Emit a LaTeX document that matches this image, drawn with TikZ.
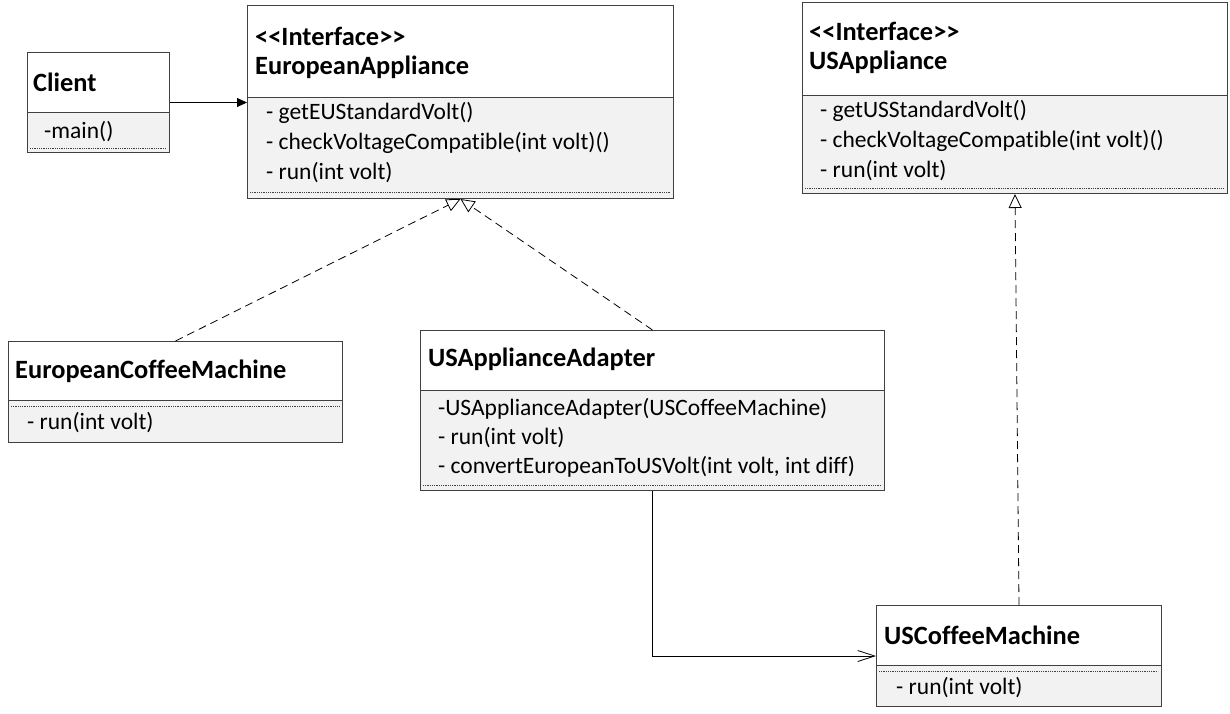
\documentclass[tikz,border=0pt]{standalone}
\usepackage{fontspec}
\setmainfont{Carlito}[Ligatures={TeXOff,NoCommon}]
\usepackage{tikz}
\usetikzlibrary{arrows.meta, positioning, calc}

\definecolor{partgray}{RGB}{242,242,242}
\definecolor{linegray}{RGB}{64,64,64}

\begin{document}
\begin{tikzpicture}[x=1pt, y=-1pt,
    classbox/.style={draw=linegray, line width=1pt, inner sep=0pt, anchor=north west},
    graypart/.style={fill=partgray, draw=linegray, line width=1pt},
    dotline/.style={densely dotted, line width=0.8pt, draw=linegray},
    title/.style={anchor=west, inner sep=0pt, font=\fontsize{26.4}{30}\selectfont\bfseries},
    method/.style={anchor=west, inner sep=0pt, font=\fontsize{23.5}{27}\selectfont},
    realize/.style={dashed, dash pattern=on 8pt off 5pt, line width=0.8pt, -{Triangle[open, length=14pt, width=13pt]}},
    assoc/.style={line width=0.8pt, -{Triangle[length=10pt, width=9pt]}},
    uses/.style={line width=0.8pt, -{Straight Barb[length=17pt, width=11pt]}}]
  \useasboundingbox (0,0) rectangle (1230,713);

  % Client
  \filldraw[graypart] (27,112) rectangle (169,152);
  \node[classbox, minimum width=142pt, minimum height=100pt] (client) at (27,52) {};
  \draw[dotline] (30,148) -- (166,148);
  \node[title] (clientName) at (33,82) {Client};
  \node[method] (clientMain) at (44,132) {-main()};

  % EuropeanAppliance
  \filldraw[graypart] (247,97) rectangle (673,198);
  \node[classbox, minimum width=426pt, minimum height=193pt] (euApp) at (247,5) {};
  \draw[dotline] (250,192) -- (670,192);
  \node[title] (euAppStereo) at (255,36) {<<Interface>>};
  \node[title] (euAppName) at (255,67) {EuropeanAppliance};
  \node[method] (euAppA) at (266,113) {- getEUStandardVolt()};
  \node[method] (euAppB) at (266,143) {- checkVoltageCompatible(int volt)()};
  \node[method] (euAppC) at (266,173) {- run(int volt)};

  % USAppliance
  \filldraw[graypart] (802,95) rectangle (1227,193);
  \node[classbox, minimum width=425pt, minimum height=191pt] (usApp) at (802,2) {};
  \draw[dotline] (805,188) -- (1224,188);
  \node[title] (usAppStereo) at (809,31) {<<Interface>>};
  \node[title] (usAppName) at (809,62) {USAppliance};
  \node[method] (usAppA) at (820,111) {- getUSStandardVolt()};
  \node[method] (usAppB) at (820,141) {- checkVoltageCompatible(int volt)()};
  \node[method] (usAppC) at (820,171) {- run(int volt)};

  % EuropeanCoffeeMachine
  \filldraw[graypart] (8,400) rectangle (342,442);
  \node[classbox, minimum width=334pt, minimum height=101pt] (euCoffee) at (8,341) {};
  \draw[dotline] (11,406) -- (339,406);
  \node[title] (euCoffeeName) at (15,371) {EuropeanCoffeeMachine};
  \node[method] (euCoffeeRun) at (27,423) {- run(int volt)};

  % USApplianceAdapter
  \filldraw[graypart] (420,390) rectangle (884,490);
  \node[classbox, minimum width=464pt, minimum height=160pt] (adapter) at (420,330) {};
  \draw[dotline] (423,485) -- (881,485);
  \node[title] (adapterName) at (428,359) {USApplianceAdapter};
  \node[method] (adapterA) at (438,409) {-USApplianceAdapter(USCoffeeMachine)};
  \node[method] (adapterB) at (438,438) {- run(int volt)};
  \node[method] (adapterC) at (438,467) {- convertEuropeanToUSVolt(int volt, int diff)};

  % USCoffeeMachine
  \filldraw[graypart] (876,665) rectangle (1161,706);
  \node[classbox, minimum width=285pt, minimum height=101pt] (usCoffee) at (876,605) {};
  \draw[dotline] (879,671) -- (1158,671);
  \node[title] (usCoffeeName) at (884,635) {USCoffeeMachine};
  \node[method] (usCoffeeRun) at (896,688) {- run(int volt)};

  % connectors
  \draw[assoc] (client.east) -- (client.east -| euApp.west);
  \draw[realize] (euCoffee.north) -- (euApp.south);
  \draw[realize] (adapter.north) -- (euApp.south);
  \draw[realize] (usCoffee.north) -- (usApp.south);
  \draw[uses] (adapter.south) |- (usCoffee.west);
\end{tikzpicture}
\end{document}
